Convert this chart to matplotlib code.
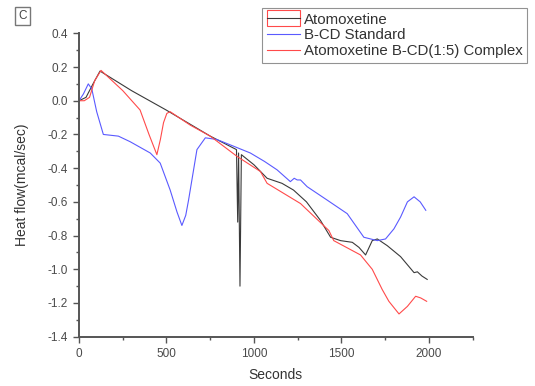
import matplotlib
matplotlib.use("Agg")
import matplotlib.pyplot as plt
from matplotlib.patches import Rectangle
from matplotlib.lines import Line2D
from matplotlib.legend_handler import HandlerBase

plt.rcParams["font.family"] = ["Liberation Sans", "DejaVu Sans"]

# Atomoxetine (black)
atom_x = [0, 40, 80, 120, 300, 498, 620, 750, 900, 907, 912, 920, 928, 1000, 1075, 1160, 1226,
          1300, 1380, 1438, 1495, 1562, 1600, 1638, 1676, 1705, 1762, 1838, 1915, 1934, 1960, 1990]
atom_y = [0.0, 0.02, 0.10, 0.176, 0.06, -0.055, -0.13, -0.21, -0.29, -0.72, -0.31, -1.10, -0.32,
          -0.38, -0.46, -0.49, -0.53, -0.60, -0.71, -0.81, -0.83, -0.84, -0.87, -0.915, -0.83, -0.82,
          -0.86, -0.925, -1.02, -1.015, -1.04, -1.06]

# B-CD Standard (blue)
bcd_x = [0, 25, 53, 73, 101, 139, 225, 292, 407, 464, 521, 560, 588, 610, 626, 674, 722, 788,
         884, 979, 1060, 1132, 1208, 1230, 1247, 1266, 1304, 1419, 1533, 1628, 1705, 1752, 1800,
         1838, 1877, 1915, 1950, 1982]
bcd_y = [0.0, 0.04, 0.10, 0.07, -0.065, -0.20, -0.21, -0.243, -0.31, -0.37, -0.53, -0.66, -0.74,
         -0.68, -0.59, -0.29, -0.22, -0.23, -0.27, -0.31, -0.36, -0.41, -0.48, -0.46, -0.47, -0.47,
         -0.51, -0.59, -0.67, -0.81, -0.83, -0.82, -0.76, -0.69, -0.60, -0.57, -0.60, -0.65]

# Atomoxetine B-CD(1:5) Complex (red)
cplx_x = [0, 30, 60, 90, 126, 250, 349, 400, 445, 465, 483, 502, 521, 636, 750, 903, 1037, 1075,
          1266, 1428, 1456, 1609, 1676, 1733, 1771, 1829, 1877, 1924, 1953, 1987]
cplx_y = [0.0, 0.0, 0.02, 0.12, 0.18, 0.06, -0.055, -0.20, -0.32, -0.23, -0.13, -0.075, -0.065,
          -0.145, -0.21, -0.33, -0.42, -0.49, -0.61, -0.77, -0.83, -0.915, -1.0, -1.12, -1.19,
          -1.265, -1.22, -1.16, -1.17, -1.19]

labels = ["Atomoxetine", "B-CD Standard", "Atomoxetine B-CD(1:5) Complex"]
x_ticks = [0, 500, 1000, 1500, 2000]
y_ticks = [-1.4, -1.2, -1.0, -0.8, -0.6, -0.4, -0.2, 0.0, 0.2, 0.4]

black = "#3a3a3a"
blue = "#5a5aff"
red = "#ff4a4a"
grey = "#555555"

fig = plt.figure(figsize=(5.35, 3.86), dpi=100)
ax = fig.add_axes([0.1477, 0.1277, 0.7358, 0.786])

ax.plot(atom_x, atom_y, color=black, lw=0.8)
ax.plot(bcd_x, bcd_y, color=blue, lw=0.8)
ax.plot(cplx_x, cplx_y, color=red, lw=0.8)

ax.set_xlim(0, 2250)
ax.set_ylim(-1.4, 0.4)
ax.set_xticks(x_ticks)
ax.set_xticks([250, 750, 1250, 1750, 2250], minor=True)
ax.set_yticks(y_ticks)
ax.set_yticks([-1.3, -1.1, -0.9, -0.7, -0.5, -0.3, -0.1, 0.1, 0.3], minor=True)
ax.set_yticklabels([f"{v:.1f}" for v in y_ticks])
ax.spines["top"].set_visible(False)
ax.spines["right"].set_visible(False)
for s in ["left", "bottom"]:
    ax.spines[s].set_color(grey)
    ax.spines[s].set_linewidth(1.4)
ax.tick_params(which="major", direction="out", length=4, width=1, color=grey,
               labelsize=8.5, labelcolor="#4a4a4a", pad=4)
ax.tick_params(which="minor", direction="out", length=2.5, width=1, color=grey)

ax.set_xlabel("Seconds", fontsize=10, color="#333333", labelpad=6)
ax.set_ylabel("Heat flow(mcal/sec)", fontsize=10, color="#333333", labelpad=13)


class BoxLineHandler(HandlerBase):
    def create_artists(self, legend, orig_handle, xdescent, ydescent, width, height,
                       fontsize, trans):
        h = fontsize * 1.05
        y0 = -ydescent + height / 2 - h / 2
        rect = Rectangle((-xdescent, y0), width, h, facecolor="none",
                         edgecolor=red, lw=0.8, transform=trans)
        ln = Line2D([-xdescent, -xdescent + width],
                    [-ydescent + height / 2] * 2, color=black, lw=0.8, transform=trans)
        return [rect, ln]


h1 = ("box",)
h2 = Line2D([0], [0], color=blue, lw=0.8)
h3 = Line2D([0], [0], color=red, lw=0.8)
leg = fig.legend([h1, h2, h3], labels, loc="upper left",
                 bbox_to_anchor=(262 / 535, 1 - 8 / 386),
                 handler_map={tuple: BoxLineHandler()},
                 fontsize=10.8, frameon=True, fancybox=False, borderpad=0.3,
                 labelspacing=0.12, handlelength=2.2, handletextpad=0.3,
                 borderaxespad=0)
leg.get_frame().set_edgecolor("#777777")
leg.get_frame().set_linewidth(0.8)
for t in leg.get_texts():
    t.set_color("#333333")

fig.text(22.5 / 535, 1 - 16 / 386, "C", fontsize=8.5, color="#444444", ha="center", va="center",
         bbox=dict(boxstyle="square,pad=0.25", facecolor="white", edgecolor="#777777", lw=1.0))

fig.savefig("out.png", dpi=100)
